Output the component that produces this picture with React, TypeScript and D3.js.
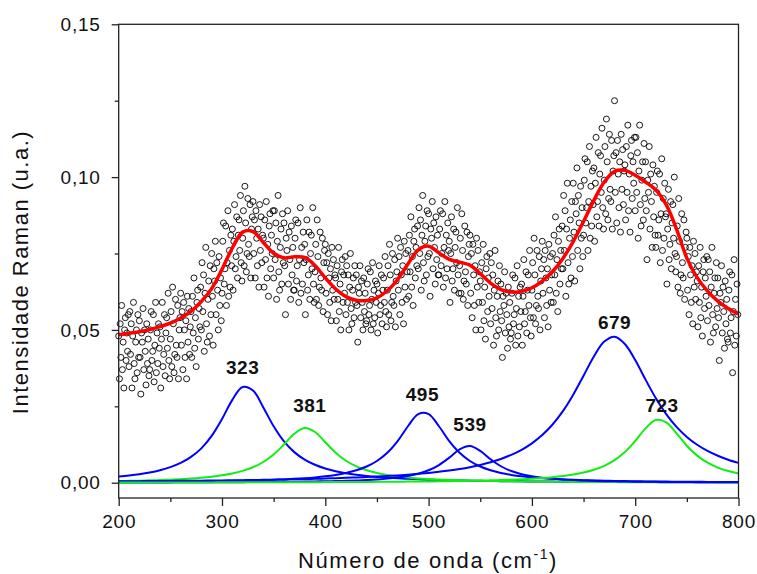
import React, { useRef, useEffect } from 'react';
import * as d3 from 'd3';

// all intensities below are in units of 10^-3 u.a.
const waveGrid = [
  200, 210, 220, 230, 240, 250, 260, 270, 280, 290,
  300, 310, 320, 330, 340, 350, 360, 370, 380, 390,
  400, 410, 420, 430, 440, 450, 460, 470, 480, 490,
  500, 510, 520, 530, 540, 550, 560, 570, 580, 590,
  600, 610, 620, 630, 640, 650, 660, 670, 680, 690,
  700, 710, 720, 730, 740, 750, 760, 770, 780, 790, 800,
];

// fitted sum (red)
const fitCurve = [
  48.4, 48.9, 49.4, 50.1, 51.1, 52.2, 53.9, 56.1, 59.3, 63.5,
  69.8, 76.8, 82.0, 82.2, 78.6, 75.1, 73.6, 73.9, 73.7, 71.1,
  67.0, 63.4, 60.9, 59.7, 59.6, 60.5, 62.8, 66.5, 71.6, 76.2,
  77.4, 75.2, 73.1, 72.2, 71.2, 68.4, 65.3, 63.2, 62.4, 62.6,
  63.8, 66.0, 69.1, 73.4, 78.9, 85.5, 92.4, 98.4, 101.9, 102.2,
  100.6, 98.4, 95.8, 91.0, 83.0, 73.5, 67.1, 62.7, 59.4, 57.0, 55.2,
];

// fitted components
const peak323 = [
  2.00, 2.35, 2.78, 3.34, 4.09, 5.10, 6.48, 8.45, 11.25, 15.34,
  20.83, 27.12, 31.32, 30.16, 24.65, 18.46, 13.52, 10.01, 7.57, 5.87,
  4.65, 3.77, 3.10, 2.59, 2.20, 1.89, 1.63, 1.43, 1.26, 1.12,
  1.00, 0.90, 0.81, 0.74, 0.67, 0.62, 0.57, 0.52, 0.48, 0.45,
  0.42, 0.39, 0.36, 0.34, 0.32, 0.30, 0.28, 0.27, 0.25, 0.24,
  0.23, 0.21, 0.20, 0.19, 0.19, 0.18, 0.17, 0.16, 0.15, 0.15, 0.14,
];
const peak381 = [
  0.54, 0.61, 0.68, 0.77, 0.88, 1.01, 1.17, 1.37, 1.63, 1.97,
  2.42, 3.02, 3.87, 5.06, 6.78, 9.23, 12.51, 16.01, 17.88, 16.59,
  13.23, 9.83, 7.20, 5.35, 4.07, 3.17, 2.52, 2.05, 1.69, 1.42,
  1.21, 1.04, 0.90, 0.79, 0.70, 0.62, 0.55, 0.50, 0.45, 0.41,
  0.37, 0.34, 0.32, 0.29, 0.27, 0.25, 0.23, 0.22, 0.20, 0.19,
  0.18, 0.17, 0.16, 0.15, 0.14, 0.13, 0.13, 0.12, 0.11, 0.11, 0.10,
];
const peak495 = [
  0.24, 0.25, 0.27, 0.29, 0.32, 0.34, 0.37, 0.40, 0.44, 0.48,
  0.53, 0.59, 0.66, 0.74, 0.83, 0.95, 1.09, 1.26, 1.47, 1.74,
  2.09, 2.56, 3.19, 4.06, 5.30, 7.11, 9.79, 13.63, 18.48, 22.47,
  22.47, 18.48, 13.63, 9.79, 7.11, 5.30, 4.06, 3.19, 2.56, 2.09,
  1.74, 1.47, 1.26, 1.09, 0.95, 0.83, 0.74, 0.66, 0.59, 0.53,
  0.48, 0.44, 0.40, 0.37, 0.34, 0.32, 0.29, 0.27, 0.25, 0.24, 0.22,
];
const peak539 = [
  0.08, 0.09, 0.09, 0.10, 0.10, 0.11, 0.12, 0.13, 0.14, 0.15,
  0.16, 0.18, 0.19, 0.21, 0.23, 0.26, 0.29, 0.32, 0.36, 0.41,
  0.47, 0.54, 0.63, 0.74, 0.89, 1.08, 1.34, 1.69, 2.21, 2.94,
  4.08, 5.79, 8.22, 10.88, 11.98, 10.40, 7.68, 5.39, 3.82, 2.78,
  2.09, 1.62, 1.28, 1.04, 0.86, 0.72, 0.61, 0.52, 0.46, 0.40,
  0.35, 0.31, 0.28, 0.25, 0.23, 0.21, 0.19, 0.17, 0.16, 0.15, 0.14,
];
const peak679 = [
  0.48, 0.50, 0.52, 0.54, 0.57, 0.59, 0.62, 0.65, 0.68, 0.72,
  0.76, 0.80, 0.84, 0.89, 0.94, 1.00, 1.06, 1.13, 1.20, 1.28,
  1.37, 1.48, 1.59, 1.71, 1.85, 2.01, 2.19, 2.39, 2.63, 2.90,
  3.21, 3.57, 3.99, 4.49, 5.09, 5.81, 6.69, 7.76, 9.10, 10.77,
  12.89, 15.59, 19.04, 23.41, 28.80, 35.02, 41.31, 46.18, 47.78, 45.41,
  40.13, 33.73, 27.63, 22.45, 18.28, 14.99, 12.42, 10.40, 8.81, 7.53, 6.50,
];
const peak723 = [
  0.08, 0.08, 0.08, 0.09, 0.09, 0.09, 0.10, 0.10, 0.11, 0.11,
  0.12, 0.12, 0.13, 0.14, 0.14, 0.15, 0.16, 0.17, 0.18, 0.19,
  0.20, 0.22, 0.23, 0.25, 0.26, 0.28, 0.31, 0.33, 0.36, 0.39,
  0.42, 0.46, 0.50, 0.55, 0.61, 0.69, 0.77, 0.87, 0.99, 1.13,
  1.31, 1.54, 1.82, 2.19, 2.68, 3.34, 4.25, 5.53, 7.38, 10.03,
  13.65, 17.77, 20.52, 19.75, 16.15, 12.09, 8.86, 6.56, 4.96, 3.84, 3.05,
];

// measured spectrum, 14 readings per 10 cm-1 band starting at waveGrid[i]
const spectrumBands = [
  [48, 34, 52, 41, 58, 37, 46, 31, 50, 54, 40, 49, 43, 55],
  [38, 56, 42, 52, 31, 48, 59, 39, 34, 46, 50, 36, 55, 41],
  [53, 41, 29, 49, 46, 57, 37, 50, 43, 32, 52, 39, 47, 35],
  [37, 50, 56, 40, 43, 55, 33, 45, 59, 36, 49, 39, 52, 44],
  [51, 31, 47, 59, 38, 42, 55, 35, 49, 54, 44, 62, 40, 34],
  [47, 56, 38, 64, 52, 36, 42, 60, 45, 41, 58, 34, 50, 54],
  [62, 45, 56, 37, 59, 50, 41, 53, 34, 61, 46, 57, 42, 51],
  [56, 41, 61, 49, 67, 44, 54, 38, 59, 63, 47, 57, 51, 64],
  [50, 72, 56, 68, 43, 62, 77, 52, 46, 60, 66, 48, 71, 55],
  [75, 61, 45, 70, 66, 79, 55, 72, 63, 50, 74, 58, 67, 53],
  [62, 79, 85, 65, 70, 84, 58, 72, 89, 61, 76, 64, 81, 71],
  [83, 63, 79, 91, 70, 74, 87, 67, 81, 86, 76, 94, 72, 66],
  [80, 89, 71, 97, 85, 69, 75, 93, 78, 74, 91, 67, 83, 87],
  [92, 75, 86, 67, 89, 80, 71, 83, 64, 91, 76, 87, 72, 81],
  [80, 64, 86, 73, 92, 67, 78, 61, 84, 88, 70, 81, 75, 89],
  [67, 89, 73, 85, 60, 79, 94, 69, 63, 77, 83, 65, 88, 72],
  [85, 71, 55, 80, 76, 89, 65, 82, 73, 60, 84, 68, 77, 63],
  [63, 80, 86, 66, 71, 85, 59, 73, 90, 62, 77, 65, 82, 72],
  [78, 55, 73, 86, 63, 68, 82, 60, 75, 81, 70, 90, 65, 59],
  [69, 78, 60, 86, 74, 58, 64, 82, 67, 63, 80, 56, 72, 76],
  [78, 62, 72, 55, 75, 67, 59, 70, 53, 77, 63, 73, 60, 68],
  [67, 53, 71, 60, 77, 56, 65, 50, 69, 73, 59, 68, 62, 74],
  [55, 71, 59, 68, 50, 64, 75, 57, 52, 63, 67, 54, 71, 59],
  [68, 58, 46, 64, 62, 71, 54, 66, 59, 50, 67, 56, 62, 52],
  [53, 65, 70, 55, 58, 69, 50, 60, 72, 52, 63, 54, 66, 59],
  [65, 49, 62, 71, 55, 58, 68, 52, 63, 67, 59, 74, 56, 51],
  [63, 71, 55, 78, 68, 53, 59, 75, 61, 58, 73, 51, 66, 69],
  [80, 63, 74, 55, 77, 68, 59, 71, 52, 79, 64, 75, 60, 69],
  [76, 61, 81, 69, 87, 64, 74, 58, 79, 83, 67, 77, 71, 84],
  [70, 90, 75, 86, 63, 81, 94, 72, 66, 79, 84, 68, 89, 74],
  [88, 75, 61, 83, 80, 92, 70, 85, 77, 65, 87, 73, 81, 68],
  [68, 83, 89, 71, 75, 88, 64, 77, 92, 67, 81, 70, 85, 76],
  [79, 59, 75, 87, 66, 70, 83, 63, 77, 82, 72, 90, 68, 62],
  [71, 80, 62, 88, 76, 60, 66, 84, 69, 65, 82, 58, 74, 78],
  [81, 62, 75, 54, 78, 68, 58, 71, 50, 80, 64, 76, 59, 69],
  [66, 50, 72, 59, 78, 53, 64, 47, 70, 74, 56, 67, 61, 75],
  [52, 72, 57, 68, 45, 63, 76, 54, 48, 61, 66, 50, 71, 56],
  [65, 53, 41, 61, 58, 69, 49, 62, 55, 44, 64, 51, 59, 47],
  [49, 62, 68, 52, 55, 67, 45, 57, 71, 48, 61, 51, 64, 56],
  [65, 45, 61, 73, 52, 56, 69, 49, 63, 68, 58, 76, 54, 48],
  [63, 72, 54, 80, 68, 52, 58, 76, 61, 57, 74, 50, 66, 70],
  [79, 62, 73, 54, 76, 67, 58, 70, 51, 78, 63, 74, 59, 68],
  [75, 59, 81, 68, 87, 62, 73, 56, 79, 83, 65, 76, 70, 84],
  [70, 94, 76, 89, 61, 83, 98, 72, 65, 80, 86, 67, 92, 74],
  [98, 82, 66, 92, 88, 103, 76, 94, 85, 70, 97, 80, 90, 74],
  [81, 99, 106, 85, 90, 105, 76, 92, 110, 80, 97, 84, 102, 91],
  [103, 79, 98, 113, 87, 92, 108, 84, 101, 107, 95, 116, 90, 83],
  [99, 110, 88, 119, 105, 86, 93, 114, 96, 92, 112, 83, 102, 107],
  [125, 95, 108, 85, 112, 101, 90, 105, 82, 114, 96, 109, 91, 102],
  [104, 86, 110, 95, 117, 89, 101, 82, 107, 112, 93, 105, 98, 113],
  [89, 113, 95, 108, 80, 102, 117, 91, 84, 99, 105, 86, 111, 93],
  [105, 89, 73, 99, 95, 110, 83, 101, 92, 77, 104, 87, 97, 81],
  [77, 95, 102, 81, 86, 101, 72, 88, 106, 76, 93, 80, 98, 87],
  [88, 65, 83, 96, 73, 78, 92, 70, 85, 91, 80, 100, 75, 69],
  [74, 84, 64, 93, 79, 62, 68, 88, 72, 67, 86, 60, 77, 82],
  [80, 63, 74, 55, 77, 68, 59, 71, 52, 79, 64, 75, 60, 69],
  [66, 51, 71, 59, 77, 54, 64, 48, 69, 73, 57, 67, 61, 74],
  [53, 73, 58, 69, 46, 64, 77, 55, 49, 62, 67, 51, 72, 57],
  [67, 54, 40, 62, 59, 71, 49, 64, 56, 44, 66, 52, 60, 47],
  [46, 63, 69, 49, 54, 68, 36, 56, 73, 45, 60, 48, 65, 55],
];

const components = [
  { label: '323', values: peak323, color: '#0000ff' },
  { label: '381', values: peak381, color: '#11ee11' },
  { label: '495', values: peak495, color: '#0000ff' },
  { label: '539', values: peak539, color: '#0000ff' },
  { label: '679', values: peak679, color: '#0000ff' },
  { label: '723', values: peak723, color: '#11ee11' },
];

// where the peak labels sit (wavenumber, intensity at text baseline)
const labelSpots: [number, number][] = [
  [320, 35.6], [385, 23.2], [494, 26.8], [540, 17.0], [680, 50.2], [726, 23.2],
];

const W = 757;
const H = 574;
const FONT = "'Liberation Sans', Arial, sans-serif";

const App: React.FC = () => {
  const ref = useRef<SVGSVGElement>(null);

  useEffect(() => {
    const svg = d3.select(ref.current);
    svg.selectAll('*').remove();

    const x = d3.scaleLinear().domain([200, 800]).range([118.7, 738.5]);
    const y = d3.scaleLinear().domain([-5, 150]).range([498, 24.3]);

    const line = d3.line<number>()
      .x((d, i) => x(waveGrid[i]))
      .y(d => y(d))
      .curve(d3.curveCatmullRom.alpha(0.5));

    // scatter
    const pts: [number, number][] = [];
    spectrumBands.forEach((row, b) => {
      row.forEach((v, j) => pts.push([waveGrid[b] + (j * 10) / row.length, v]));
    });
    svg.append('g')
      .selectAll('circle')
      .data(pts)
      .join('circle')
      .attr('cx', d => x(d[0]))
      .attr('cy', d => y(d[1]))
      .attr('r', 3)
      .attr('fill', 'none')
      .attr('stroke', '#000')
      .attr('stroke-width', 0.9);

    // components
    components.forEach(c => {
      svg.append('path')
        .datum(c.values)
        .attr('fill', 'none')
        .attr('stroke', c.color)
        .attr('stroke-width', 2)
        .attr('d', line);
    });

    // fit
    svg.append('path')
      .datum(fitCurve)
      .attr('fill', 'none')
      .attr('stroke', '#ff0000')
      .attr('stroke-width', 3.5)
      .attr('stroke-linejoin', 'round')
      .attr('d', line);

    // peak labels
    svg.append('g')
      .selectAll('text')
      .data(components)
      .join('text')
      .attr('x', (d, i) => x(labelSpots[i][0]))
      .attr('y', (d, i) => y(labelSpots[i][1]))
      .attr('text-anchor', 'middle')
      .attr('font-family', FONT)
      .attr('font-weight', 'bold')
      .attr('font-size', 19)
      .attr('letter-spacing', 0.5)
      .attr('fill', '#111')
      .text(d => d.label);

    // frame
    svg.append('rect')
      .attr('x', x(200))
      .attr('y', y(150))
      .attr('width', x(800) - x(200))
      .attr('height', y(-5) - y(150))
      .attr('fill', 'none')
      .attr('stroke', '#222')
      .attr('stroke-width', 1.3);

    // axes
    const fmtY = (v: d3.NumberValue) => (Number(v) / 1000).toFixed(2).replace('.', ',');
    const yAxis = svg.append('g')
      .attr('transform', `translate(${x(200)},0)`)
      .call(d3.axisLeft(y).tickValues([0, 50, 100, 150]).tickSize(7).tickPadding(11).tickFormat(fmtY));
    const yMinor = svg.append('g')
      .attr('transform', `translate(${x(200)},0)`)
      .call(d3.axisLeft(y).tickValues([25, 75, 125]).tickSize(4).tickFormat(() => ''));
    const xAxis = svg.append('g')
      .attr('transform', `translate(0,${y(-5)})`)
      .call(d3.axisBottom(x).tickValues([200, 300, 400, 500, 600, 700, 800]).tickSize(8).tickPadding(9).tickFormat(d3.format('d')));
    const xMinor = svg.append('g')
      .attr('transform', `translate(0,${y(-5)})`)
      .call(d3.axisBottom(x).tickValues([250, 350, 450, 550, 650, 750]).tickSize(4).tickFormat(() => ''));
    [yAxis, yMinor, xAxis, xMinor].forEach(g => {
      g.select('.domain').remove();
      g.selectAll('line').attr('stroke', '#222').attr('stroke-width', 1.3);
      g.selectAll('text')
        .attr('font-family', FONT)
        .attr('font-size', 19)
        .attr('letter-spacing', 0.8)
        .attr('fill', '#111');
    });

    // titles
    const xt = svg.append('text')
      .attr('x', 428)
      .attr('y', 568)
      .attr('text-anchor', 'middle')
      .attr('font-family', FONT)
      .attr('font-size', 22)
      .attr('letter-spacing', 1.6)
      .attr('fill', '#111');
    xt.append('tspan').text('Número de onda (cm');
    xt.append('tspan').attr('dy', -9).attr('font-size', 14).text('-1');
    xt.append('tspan').attr('dy', 9).text(')');

    svg.append('text')
      .attr('transform', 'translate(28,272) rotate(-90)')
      .attr('text-anchor', 'middle')
      .attr('font-family', FONT)
      .attr('font-size', 22)
      .attr('letter-spacing', 1.5)
      .attr('fill', '#111')
      .text('Intensidade Raman (u.a.)');
  }, []);

  return (
    <svg ref={ref} width={W} height={H}
      style={{ position: 'absolute', left: 0, top: 0, background: '#fff' }} />
  );
};

export default App;
